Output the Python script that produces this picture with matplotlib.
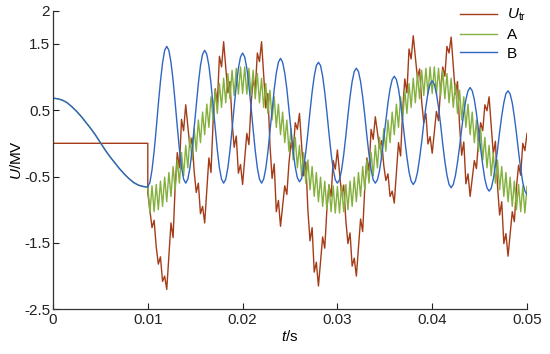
import matplotlib
matplotlib.use("Agg")
import matplotlib.pyplot as plt
import numpy as np

plt.rcParams["font.family"] = ["Liberation Sans", "DejaVu Sans"]
plt.rcParams["mathtext.fontset"] = "custom"
plt.rcParams["mathtext.rm"] = "Liberation Sans"
plt.rcParams["mathtext.it"] = "Liberation Sans:italic"

# before the fault (t = 0 ... 0.01 s): A and B coincide, Utr is zero
t_pre = np.linspace(0.0, 0.01, 21)
ab_pre = [0.68, 0.67, 0.65, 0.61, 0.55, 0.48, 0.40, 0.31, 0.22, 0.12, 0.01,
          -0.10, -0.20, -0.29, -0.38, -0.46, -0.53, -0.59, -0.63, -0.65, -0.66]
t_utr_pre = [0.0, 0.01]
utr_pre = [0.0, 0.0]

# after the fault (t = 0.01 ... 0.05 s), one sample every 0.01/45 s
t_main = np.linspace(0.01, 0.05, 181)

utr_main = [
    -0.75, -1.01, -1.27, -1.16, -1.56, -1.82, -1.71, -2.08, -2.00, -2.20,
    -1.70, -1.20, -1.42, -0.64, -0.14, -0.37, 0.36, 0.19, 0.58,
    0.26, -0.06, 0.08, -0.42, -0.74, -0.60, -1.06, -0.95, -1.20,
    -0.71, -0.22, -0.44, 0.33, 0.82, 0.60, 1.31, 1.15, 1.53,
    1.14, 0.76, 0.93, 0.33, -0.06, 0.11, -0.45, -0.32, -0.62,
    -0.23, 0.15, -0.02, 0.58, 0.97, 0.80, 1.36, 1.23, 1.53,
    1.03, 0.53, 0.75, -0.03, -0.53, -0.31, -1.03, -0.86, -1.25,
    -0.94, -0.64, -0.77, -0.30, 0.01, -0.13, 0.31, 0.21, 0.45,
    -0.02, -0.49, -0.28, -1.01, -1.47, -1.27, -1.94, -1.79, -2.15,
    -1.78, -1.41, -1.58, -1.00, -0.63, -0.80, -0.26, -0.39, -0.10,
    -0.44, -0.78, -0.63, -1.16, -1.51, -1.35, -1.85, -1.73, -2.00,
    -1.57, -1.14, -1.33, -0.66, -0.22, -0.42, 0.21, 0.06, 0.40,
    0.17, -0.07, 0.04, -0.33, -0.56, -0.46, -0.80, -0.72, -0.90,
    -0.45, 0.01, -0.19, 0.51, 0.97, 0.76, 1.42, 1.27, 1.62,
    1.30, 0.98, 1.12, 0.63, 0.31, 0.45, -0.01, 0.10, -0.15,
    0.17, 0.48, 0.34, 0.83, 1.15, 1.01, 1.46, 1.36, 1.60,
    1.17, 0.74, 0.93, 0.26, -0.18, 0.02, -0.61, -0.46, -0.80,
    -0.53, -0.26, -0.38, 0.04, 0.31, 0.19, 0.58, 0.49, 0.70,
    0.27, -0.16, 0.03, -0.64, -1.08, -0.88, -1.51, -1.36, -1.70,
    -1.37, -1.03, -1.18, -0.66, -0.33, -0.48, 0.00, -0.11, 0.15,
]

a_main = [
    -0.65, -1.05, -0.64, -1.03, -0.62, -1.00, -0.57, -0.95, -0.51, -0.88,
    -0.44, -0.80, -0.35, -0.70, -0.25, -0.60, -0.14, -0.49, -0.03, -0.37,
    0.09, -0.25, 0.22, -0.12, 0.35, 0.01, 0.47, 0.13, 0.59, 0.24,
    0.70, 0.35, 0.80, 0.45, 0.90, 0.54, 0.98, 0.61, 1.05, 0.67,
    1.10, 0.72, 1.13, 0.74, 1.15, 0.75, 1.15, 0.74, 1.13, 0.72,
    1.10, 0.67, 1.05, 0.61, 0.98, 0.54, 0.90, 0.45, 0.80, 0.35,
    0.70, 0.24, 0.59, 0.13, 0.47, 0.01, 0.35, -0.12, 0.22, -0.25,
    0.09, -0.37, -0.03, -0.49, -0.14, -0.60, -0.25, -0.70, -0.35, -0.80,
    -0.44, -0.88, -0.51, -0.95, -0.57, -1.00, -0.62, -1.03, -0.64, -1.05,
    -0.65,
    -1.05, -0.64, -1.03, -0.62, -1.00, -0.57, -0.95, -0.51, -0.88,
    -0.44, -0.80, -0.35, -0.70, -0.25, -0.60, -0.14, -0.49, -0.03, -0.37,
    0.09, -0.25, 0.22, -0.12, 0.35, 0.01, 0.47, 0.13, 0.59, 0.24,
    0.70, 0.35, 0.80, 0.45, 0.90, 0.54, 0.98, 0.61, 1.05, 0.67,
    1.10, 0.72, 1.13, 0.74, 1.15, 0.75, 1.15, 0.74, 1.13, 0.72,
    1.10, 0.67, 1.05, 0.61, 0.98, 0.54, 0.90, 0.45, 0.80, 0.35,
    0.70, 0.24, 0.59, 0.13, 0.47, 0.01, 0.35, -0.12, 0.22, -0.25,
    0.09, -0.37, -0.03, -0.49, -0.14, -0.60, -0.25, -0.70, -0.35, -0.80,
    -0.44, -0.88, -0.51, -0.95, -0.57, -1.00, -0.62, -1.03, -0.64, -1.05,
    -0.65,
]

b_main = [
    -0.65, -0.59, -0.40, -0.12, 0.22, 0.59, 0.93, 1.21, 1.40, 1.46,
    1.40, 1.22, 0.95, 0.61, 0.25, -0.09, -0.36, -0.54, -0.60,
    -0.54, -0.37, -0.10, 0.23, 0.57, 0.90, 1.17, 1.34, 1.40,
    1.34, 1.17, 0.90, 0.57, 0.23, -0.10, -0.37, -0.54, -0.60,
    -0.54, -0.37, -0.11, 0.21, 0.55, 0.87, 1.13, 1.30, 1.36,
    1.30, 1.13, 0.87, 0.55, 0.21, -0.11, -0.37, -0.54, -0.60,
    -0.54, -0.38, -0.13, 0.18, 0.50, 0.81, 1.06, 1.22, 1.28,
    1.22, 1.06, 0.82, 0.51, 0.19, -0.12, -0.36, -0.52, -0.58,
    -0.53, -0.37, -0.13, 0.16, 0.48, 0.77, 1.01, 1.17, 1.22,
    1.17, 1.01, 0.77, 0.47, 0.15, -0.15, -0.39, -0.55, -0.60,
    -0.55, -0.40, -0.17, 0.11, 0.42, 0.70, 0.93, 1.08, 1.13,
    1.08, 0.93, 0.70, 0.42, 0.11, -0.17, -0.40, -0.55, -0.60,
    -0.55, -0.41, -0.20, 0.07, 0.35, 0.61, 0.82, 0.96, 1.01,
    0.96, 0.82, 0.60, 0.34, 0.05, -0.21, -0.43, -0.57, -0.62,
    -0.57, -0.44, -0.23, 0.02, 0.30, 0.55, 0.76, 0.89, 0.94,
    0.89, 0.75, 0.54, 0.28, -0.01, -0.27, -0.48, -0.62, -0.67,
    -0.62, -0.49, -0.29, -0.05, 0.22, 0.46, 0.66, 0.79, 0.84,
    0.79, 0.66, 0.45, 0.20, -0.08, -0.33, -0.54, -0.67, -0.72,
    -0.68, -0.54, -0.34, -0.10, 0.17, 0.41, 0.61, 0.75, 0.79,
    0.74, 0.61, 0.40, 0.15, -0.13, -0.38, -0.59, -0.72, -0.77,
]

x_ticks = [0, 0.01, 0.02, 0.03, 0.04, 0.05]
x_ticklabels = ["0", "0.01", "0.02", "0.03", "0.04", "0.05"]
y_ticks = [2, 1.5, 0.5, -0.5, -1.5, -2.5]
y_ticklabels = ["2", "1.5", "0.5", "-0.5", "-1.5", "-2.5"]

c_utr = "#a53c18"
c_a = "#84b03e"
c_b = "#2f66c4"

fig = plt.figure(figsize=(5.5, 3.54), dpi=100)
ax = fig.add_axes([53 / 550, 1 - 309.3 / 354, (527 - 53) / 550, (309.3 - 10.5) / 354])

lw = 1.0
ax.plot(np.concatenate([t_utr_pre, t_main]), np.concatenate([utr_pre, utr_main]),
        color=c_utr, lw=lw, label=r"$\it{U}_{\rm tr}$")
ax.plot(np.concatenate([t_pre, t_main]), np.concatenate([ab_pre, a_main]),
        color=c_a, lw=lw, label="A")
ax.plot(np.concatenate([t_pre, t_main]), np.concatenate([ab_pre, b_main]),
        color=c_b, lw=lw, label="B")

ax.set_xlim(0, 0.05)
ax.set_ylim(-2.5, 2)
ax.set_xticks(x_ticks)
ax.set_xticklabels(x_ticklabels)
ax.set_yticks(y_ticks)
ax.set_yticklabels(y_ticklabels)
ax.tick_params(direction="in", length=4, width=0.8, labelsize=11, pad=3, colors="#222222")
ax.tick_params(axis="y", pad=2)
for side in ["top", "right"]:
    ax.spines[side].set_visible(False)
for side in ["left", "bottom"]:
    ax.spines[side].set_color("#333333")
    ax.spines[side].set_linewidth(0.9)

ax.set_xlabel(r"$\it{t}$/s", fontsize=11, labelpad=1)
ax.set_ylabel(r"$\it{U}$/MV", fontsize=11, labelpad=0)

ax.legend(loc="upper left", bbox_to_anchor=(460 / 550, 1 - 7 / 354),
          bbox_transform=fig.transFigure, frameon=False, fontsize=11,
          borderpad=0, borderaxespad=0, handlelength=2.45, handletextpad=0.6,
          labelspacing=0.3)

fig.savefig("out.png", dpi=100)
